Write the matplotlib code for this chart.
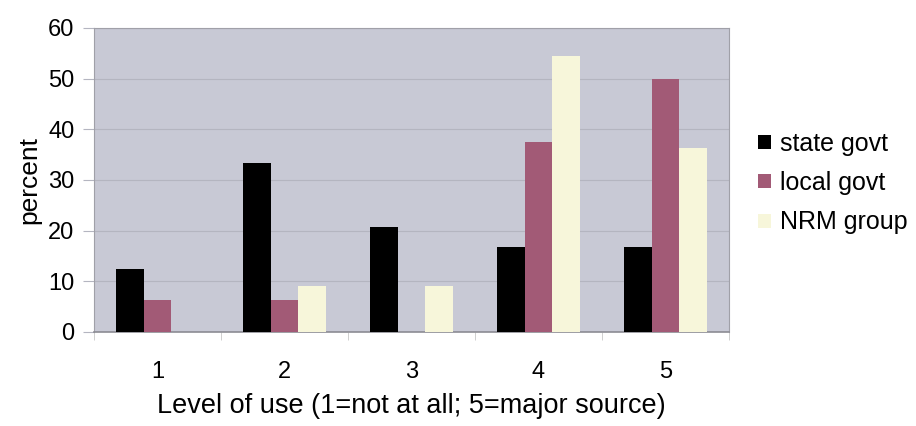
import numpy as np
import matplotlib as mpl
import matplotlib.pyplot as plt
from matplotlib.patches import Patch

# Level of use categories and percentage of respondents per source
levels = ["1", "2", "3", "4", "5"]
state_govt = [12.5, 33.3, 20.8, 16.7, 16.7]
local_govt = [6.3, 6.3, 0.0, 37.5, 50.0]
nrm_group = [0.0, 9.1, 9.1, 54.5, 36.4]

series_names = ["state govt", "local govt", "NRM group"]
colours = ["#000000", "#a25a76", "#f7f6da"]

mpl.rcParams.update({
    "font.family": ["Liberation Sans", "DejaVu Sans"],
    "font.size": 17,
})

fig = plt.figure(figsize=(9.16, 4.26), dpi=100)
ax = fig.add_axes([94 / 916, 1 - 332 / 426, (729 - 94) / 916, (332 - 28) / 426])
ax.set_facecolor("#c8c9d5")

x = np.arange(len(levels))
bar_w = 0.22
for i, (vals, col) in enumerate(zip([state_govt, local_govt, nrm_group], colours)):
    ax.bar(x + (i - 1) * bar_w, vals, width=bar_w, color=col, linewidth=0, zorder=3)

ax.set_xlim(-0.5, len(levels) - 0.5)
ax.set_ylim(0, 60)
ax.set_yticks(range(0, 61, 10))
ax.grid(axis="y", color="#b4b5c0", linewidth=0.8, zorder=1)

ax.set_xticks(x)
ax.set_xticklabels(levels)
ax.set_xticks(np.arange(-0.5, len(levels), 1.0), minor=True)
ax.tick_params(axis="x", which="major", length=0, pad=21)
ax.tick_params(axis="x", which="minor", length=6, color="#c8c8c8", direction="out")
ax.tick_params(axis="y", length=8, color="#b4b5c0", pad=6)

for side in ["top", "right", "left"]:
    ax.spines[side].set_color("#a0a0a8")
    ax.spines[side].set_linewidth(0.8)
ax.spines["bottom"].set_color("#8c8c94")
ax.spines["bottom"].set_linewidth(1.2)

ax.set_ylabel("percent", fontsize=19, labelpad=5)
ax.set_xlabel("Level of use (1=not at all; 5=major source)", fontsize=19.5, labelpad=7)

handles = [Patch(facecolor=c, edgecolor="none", label=n)
           for c, n in zip(colours, series_names)]
fig.legend(handles=handles, loc="center left", bbox_to_anchor=(758 / 916, 1 - 183 / 426),
           frameon=False, borderpad=0, borderaxespad=0,
           handlelength=0.5, handleheight=0.5, handletextpad=0.4,
           labelspacing=0.62, fontsize=18)

fig.savefig("out.png", dpi=100)
